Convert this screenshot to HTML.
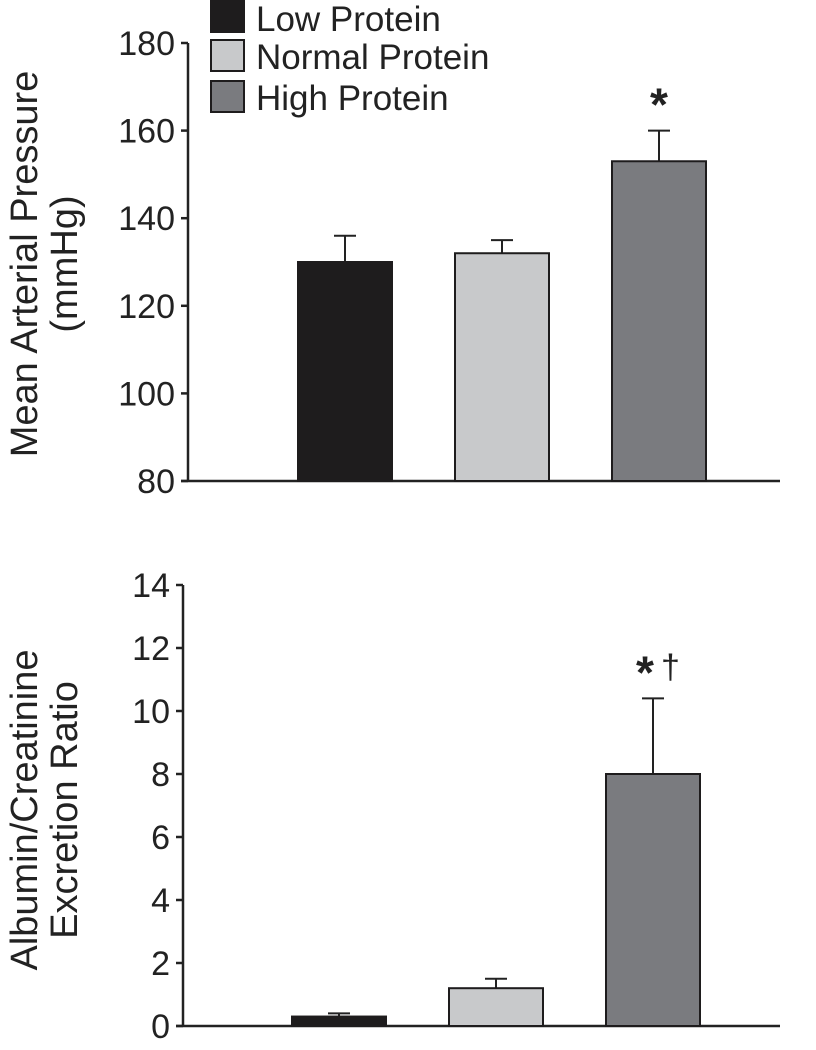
<!DOCTYPE html>
<html><head><meta charset="utf-8"><style>
html,body{margin:0;padding:0;background:#fff}
svg{display:block;font-family:"Liberation Sans",Arial,sans-serif}
</style></head><body>
<svg id="chart" width="816" height="1050" viewBox="0 0 816 1050" xmlns="http://www.w3.org/2000/svg">
<g id="legend">
<rect x="211" y="1" width="33" height="31" fill="#1e1c1d" stroke="#1e1c1d" stroke-width="2"/>
<text x="256" y="31" font-size="35" fill="#222">Low Protein</text>
<rect x="211" y="40" width="33" height="31" fill="#c8c9cb" stroke="#1e1c1d" stroke-width="2"/>
<text x="256" y="69" font-size="35" fill="#222">Normal Protein</text>
<rect x="211" y="81" width="33" height="31" fill="#7a7b7f" stroke="#1e1c1d" stroke-width="2"/>
<text x="256" y="110" font-size="35" fill="#222">High Protein</text>
</g>
<g id="top"></g>
<g id="bot"></g>
<text transform="translate(37,264) rotate(-90)" text-anchor="middle" font-size="38" fill="#222">Mean Arterial Pressure</text>
<text transform="translate(77,264) rotate(-90)" text-anchor="middle" font-size="38" fill="#222">(mmHg)</text>
<text transform="translate(37,810) rotate(-90)" text-anchor="middle" font-size="38" fill="#222">Albumin/Creatinine</text>
<text transform="translate(77,810) rotate(-90)" text-anchor="middle" font-size="38" fill="#222">Excretion Ratio</text>
</svg>
<script>
const groups = ["Low Protein","Normal Protein","High Protein"];
const colors = ["#1e1c1d","#c8c9cb","#7a7b7f"];
const mapValues = [130,132,153];
const mapErrors = [6,3,7];
const mapTicks = [80,100,120,140,160,180];
const mapMarks = ["","","*"];
const acrValues = [0.3,1.2,8.0];
const acrErrors = [0.1,0.3,2.4];
const acrTicks = [0,2,4,6,8,10,12,14];
const acrMarks = ["","","*"];
const acrDaggers = ["","","†"];
const NS="http://www.w3.org/2000/svg";
function mk(parent,tag,attrs){const e=document.createElementNS(NS,tag);for(const k in attrs)e.setAttribute(k,attrs[k]);parent.appendChild(e);return e;}
function draw(gid,cfg){
  const g=document.getElementById(gid);
  const y=v=>cfg.y0-(v-cfg.min)/(cfg.max-cfg.min)*(cfg.y0-cfg.y1);
  const ax=mk(g,'line',{x1:cfg.ax,y1:cfg.y1,x2:cfg.ax,y2:cfg.y0,stroke:'#222','stroke-width':2.5});
  
  
  const xa=mk(g,'line',{x1:cfg.ax-7,y1:cfg.y0,x2:780,y2:cfg.y0,stroke:'#222','stroke-width':2.5});
  
  
  cfg.ticks.forEach(t=>{
    const l=mk(g,'line',{x1:cfg.ax-7,y1:y(t),x2:cfg.ax,y2:y(t),stroke:'#222','stroke-width':2.5});
    
    
    const tx=mk(g,'text',{x:cfg.ax-13,y:y(t)+12,'text-anchor':'end','font-size':34,fill:'#222'});
    tx.textContent=t;
    
    
  });
  cfg.vals.forEach((v,i)=>{
    const x=cfg.bx[i], w=94, cx=x+w/2;
    const top=y(v+cfg.errs[i]);
    const el=mk(g,'line',{x1:cx,y1:y(v),x2:cx,y2:top,stroke:'#222','stroke-width':2});
    
    
    const ec=mk(g,'line',{x1:cx-11,y1:top,x2:cx+11,y2:top,stroke:'#222','stroke-width':2});
    
    
    const r=mk(g,'rect',{x:x,y:y(v),width:w,height:cfg.y0-y(v),fill:colors[i],stroke:'#1e1c1d','stroke-width':2});
    
    
    const dag=cfg.daggers?cfg.daggers[i]:"";
    if(cfg.marks[i]){
      const off=dag?-8:0;
      const m=mk(g,'text',{x:cx+off,y:top-10,'text-anchor':'middle','font-size':46,'font-weight':'bold',fill:'#222'});
      m.textContent=cfg.marks[i];
      
      
    }
    if(dag){
      const d=mk(g,'text',{x:cx+8,y:top-20,'text-anchor':'start','font-size':34,fill:'#222'});
      d.textContent=dag;
      
      
    }
  });
}
draw('top',{p:'top',ax:188,y0:481,y1:43,min:80,max:180,ticks:mapTicks,vals:mapValues,errs:mapErrors,marks:mapMarks,bx:[298,455,612]});
draw('bot',{p:'bottom',ax:183,y0:1026,y1:585,min:0,max:14,ticks:acrTicks,vals:acrValues,errs:acrErrors,marks:acrMarks,daggers:acrDaggers,bx:[292,449,606]});
</script>
</body></html>
